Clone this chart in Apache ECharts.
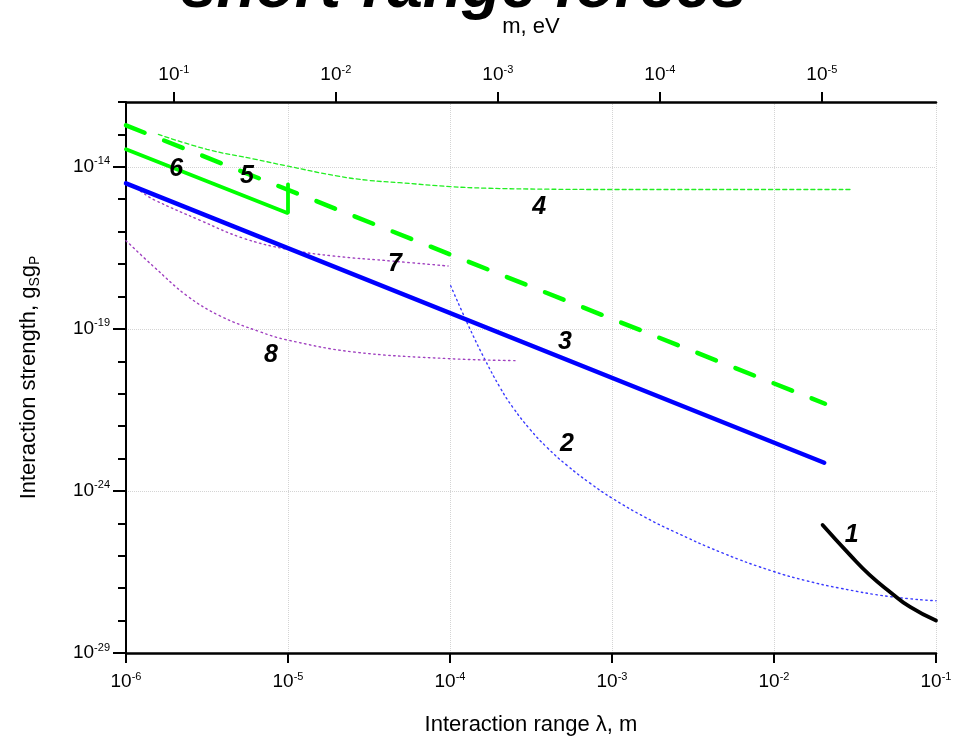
<!DOCTYPE html>
<html lang="en">

<head>
    <meta charset="UTF-8">
    <title>short-range forces</title>
    <script src="https://cdn.jsdelivr.net/npm/echarts@6/dist/echarts.min.js"></script>
    <style>
        html, body { margin: 0; padding: 0; background: #fff; }
    </style>
</head>

<body>
    <div id="main" style="width: 955px;height:741px;"></div>

    <script>
        // all values are log10: x = log10(lambda / m), y = log10(gS*gP)
        var curve1X = [-1.70, -1.53, -1.41, -1.28, -1.16, -1.0];
        var curve1Y = [-25.05, -25.98, -26.59, -27.13, -27.58, -28.0];

        var curve2X = [-3.996, -3.877, -3.784, -3.691, -3.611, -3.506, -3.401, -3.278, -3.136, -2.994, -2.8, -2.623, -2.315, -2.006, -1.8, -1.593, -1.284, -1.0];
        var curve2Y = [-17.67, -19.0, -19.95, -20.81, -21.43, -22.10, -22.66, -23.21, -23.76, -24.24, -24.80, -25.24, -25.92, -26.48, -26.77, -27.0, -27.26, -27.39];

        var curve3X = [-6, -1.69];
        var curve3Y = [-14.51, -23.13];

        var curve4X = [-5.80, -5.5, -5.2, -5.0, -4.7, -4.5, -4.31, -4.0, -3.77, -3.4, -3.0, -2.0, -1.53];
        var curve4Y = [-13.0, -13.46, -13.77, -13.98, -14.28, -14.42, -14.49, -14.61, -14.66, -14.69, -14.70, -14.70, -14.70];

        var curve5X = [-6, -1.685];
        var curve5Y = [-12.72, -21.31];

        var curve6X = [-6, -5, -5];
        var curve6Y = [-13.46, -15.43, -14.54];

        var curve7X = [-5.91, -5.833, -5.543, -5.278, -5.0, -4.722, -4.352, -4.012];
        var curve7Y = [-14.75, -15.0, -15.65, -16.2, -16.55, -16.75, -16.91, -17.06];

        var curve8X = [-6, -5.833, -5.623, -5.42, -5.173, -5.006, -4.6, -4.0, -3.586];
        var curve8Y = [-16.28, -17.06, -17.98, -18.6, -19.09, -19.34, -19.71, -19.92, -19.98];

        // curve numbers placed next to the lines
        var labelText = ['1', '2', '3', '4', '5', '6', '7', '8'];
        var labelX = [-1.52, -3.278, -3.29, -3.45, -5.253, -5.69, -4.34, -5.105];
        var labelY = [-25.37, -22.54, -19.4, -15.25, -14.29, -14.08, -17.0, -19.8];

        // tick values (log10)
        var massTicks = [-1, -2, -3, -4, -5];
        var strengthTicks = [-29, -24, -19, -14];

        // top axis: m = hbar*c / lambda, hbar*c = 1.97e-7 eV*m
        var lgHbarC = Math.log10(1.973e-7);
        var lambdaMin = -6, lambdaMax = -1;

        var font = "'Liberation Sans', Arial, sans-serif";

        function zip(xs, ys) {
            return xs.map(function (x, i) { return [x, ys[i]]; });
        }

        function powLabel(v) {
            var n = Math.round(v);
            if (Math.abs(v - n) > 1e-6) return '';
            return '{b|10}{s|' + n + '}';
        }

        var richPow = {
            b: { fontSize: 19, fontFamily: font, color: '#000', lineHeight: 22 },
            s: { fontSize: 11, fontFamily: font, color: '#000', verticalAlign: 'top', lineHeight: 10 }
        };

        var chart = echarts.init(document.getElementById('main'));

        function lineSeries(xs, ys, color, width, type, smooth) {
            return {
                type: 'line',
                data: zip(xs, ys),
                showSymbol: false,
                smooth: smooth,
                silent: true,
                lineStyle: { color: color, width: width, type: type, cap: 'round' },
                z: 3
            };
        }

        var option = {
            animation: false,
            backgroundColor: '#fff',
            title: {
                text: 'short-range forces',
                left: 181,
                top: -43,
                padding: 0,
                textStyle: { fontSize: 64, fontWeight: 'bold', fontStyle: 'italic', fontFamily: font, color: '#000' }
            },
            grid: { left: 126, right: 19, top: 102, bottom: 86 },
            xAxis: [
                {
                    type: 'value', position: 'bottom', min: lambdaMin, max: lambdaMax, interval: 1,
                    name: 'Interaction range λ, m', nameLocation: 'middle', nameGap: 61,
                    nameTextStyle: { fontSize: 22, fontFamily: font, color: '#000' },
                    axisLine: { onZero: false, lineStyle: { color: '#000', width: 2.5 } },
                    axisTick: { length: 10, lineStyle: { color: '#000', width: 2 } },
                    axisLabel: { margin: 18, formatter: powLabel, rich: richPow },
                    splitLine: { show: true, lineStyle: { color: '#d4d4d4', width: 1, type: 'dotted' } }
                },
                {
                    type: 'value', position: 'top', inverse: true,
                    min: lgHbarC - lambdaMax, max: lgHbarC - lambdaMin,
                    name: 'm, eV', nameLocation: 'middle', nameGap: 64,
                    nameTextStyle: { fontSize: 22, fontFamily: font, color: '#000' },
                    axisLine: { onZero: false, lineStyle: { color: '#000', width: 2.5 } },
                    axisTick: { length: 10, customValues: massTicks, lineStyle: { color: '#000', width: 2 } },
                    axisLabel: { margin: 16, customValues: massTicks, formatter: powLabel, rich: richPow },
                    splitLine: { show: false }
                }
            ],
            yAxis: [
                {
                    type: 'value', position: 'left', min: -29, max: -12, interval: 5,
                    name: '{a|Interaction strength, g}{u|S}{a|g}{u|P}', nameLocation: 'middle', nameGap: 84,
                    nameTextStyle: {
                        rich: {
                            a: { fontSize: 22, fontFamily: font, color: '#000', lineHeight: 26 },
                            u: { fontSize: 14, fontFamily: font, color: '#000', verticalAlign: 'bottom', lineHeight: 12 }
                        }
                    },
                    axisLine: { onZero: false, lineStyle: { color: '#000', width: 2 } },
                    axisTick: { length: 13, customValues: strengthTicks, lineStyle: { color: '#000', width: 2 } },
                    axisLabel: { margin: 16, customValues: strengthTicks, formatter: powLabel, rich: richPow },
                    splitLine: { show: true, lineStyle: { color: '#d4d4d4', width: 1, type: 'dotted' } }
                },
                {
                    type: 'value', position: 'left', min: -29, max: -12, interval: 1,
                    axisLine: { show: false },
                    axisTick: { length: 8, lineStyle: { color: '#000', width: 2 } },
                    axisLabel: { show: false },
                    splitLine: { show: false }
                }
            ],
            series: [
                lineSeries(curve2X, curve2Y, '#3a3aff', 1.4, [1.5, 3.5], 0.45),
                lineSeries(curve7X, curve7Y, '#a040c0', 1.4, [1.5, 3.5], 0.4),
                lineSeries(curve8X, curve8Y, '#a040c0', 1.4, [1.5, 3.5], 0.4),
                lineSeries(curve4X, curve4Y, '#22ee22', 1.3, [4, 3], 0.4),
                lineSeries(curve3X, curve3Y, '#0000ff', 4.5, 'solid', false),
                lineSeries(curve5X, curve5Y, '#00ff00', 4.5, [20, 21], false),
                lineSeries(curve6X, curve6Y, '#00ff00', 3.8, 'solid', false),
                lineSeries(curve1X, curve1Y, '#000000', 3.8, 'solid', 0.5),
                {
                    type: 'scatter',
                    data: labelX.map(function (x, i) { return [x, labelY[i], labelText[i]]; }),
                    symbolSize: 0,
                    silent: true,
                    z: 5,
                    itemStyle: { opacity: 1 },
                    label: {
                        show: true, position: 'inside', opacity: 1,
                        formatter: function (p) { return p.value[2]; },
                        fontSize: 25, fontWeight: 'bold', fontStyle: 'italic', fontFamily: font, color: '#000'
                    }
                }
            ]
        };

        chart.setOption(option);
    </script>
</body>

</html>
